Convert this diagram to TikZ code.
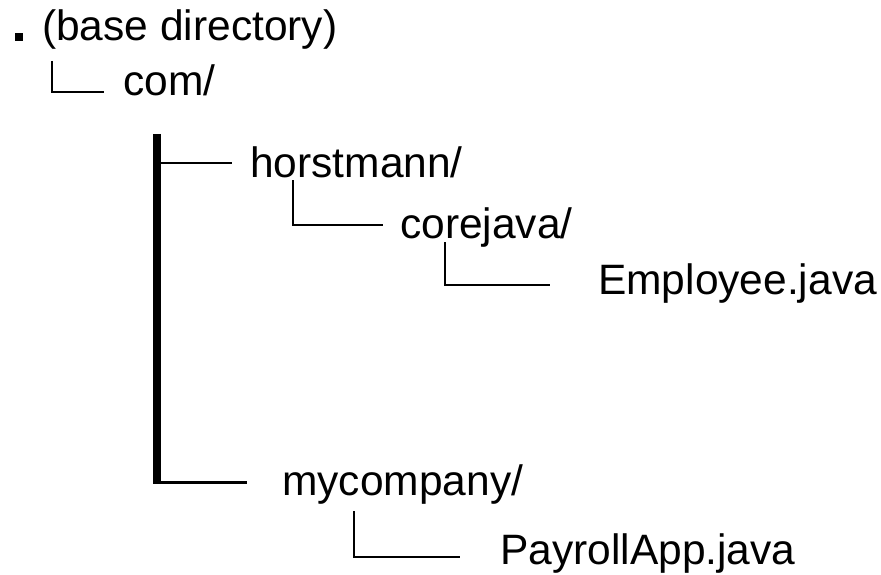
\documentclass[tikz,border=0pt]{standalone}
\usepackage{fontspec}
\setmainfont{Liberation Sans}
\usetikzlibrary{positioning, calc}
\tikzset{
    dir/.style={anchor=base west, inner sep=0pt, font=\fontsize{42.5}{51}\selectfont},
    branch/.style={draw, line width=2.5pt},
    trunk/.style={draw, line width=7.5pt},
    bullet/.style={fill, minimum size=7.5pt, inner sep=0pt},
}

\begin{document}
\begin{tikzpicture}[x=1pt, y=1pt]
    \useasboundingbox (0,0) rectangle (881,-575);

    \node[bullet] (dot) at (19,-37) {};
    \node[dir] (base) at (42,-41) {(base directory)};
    \node[dir] (com) at (123,-96) {com/};
    \node[dir] (horstmann) at (250,-178) {horstmann/};
    \node[dir] (corejava) at (400,-238) {corejava/};
    \node[dir] (employee) at (598,-294) {Employee.java};
    \node[dir] (mycompany) at (282,-495) {mycompany/};
    \node[dir] (payroll) at (500,-564) {PayrollApp.java};

    % where each branch comes in
    \coordinate (com-in) at ([shift={(-19,4)}]com.base west);
    \coordinate (horstmann-in) at ([shift={(-18,15)}]horstmann.base west);
    \coordinate (corejava-in) at ([shift={(-17,13)}]corejava.base west);
    \coordinate (employee-in) at ([shift={(-48,9)}]employee.base west);
    \coordinate (mycompany-in) at ([shift={(-35,13)}]mycompany.base west);
    \coordinate (payroll-in) at ([shift={(-40,7)}]payroll.base west);

    \draw[branch] ([shift={(10,-20)}]base.base west) |- (com-in);

    \coordinate (bartop) at ([shift={(34,-38)}]com.base west);
    \draw[trunk] (bartop) -- ($(bartop |- mycompany-in)+(0,-1.5)$);
    \draw[branch] (bartop |- horstmann-in) -- (horstmann-in);
    \draw[branch, line width=3pt] (bartop |- mycompany-in) -- (mycompany-in);

    \draw[branch] ([shift={(43,-2)}]horstmann.base west) |- (corejava-in);
    \draw[branch] ([shift={(45,-4)}]corejava.base west) |- (employee-in);
    \draw[branch] ([shift={(72,-16)}]mycompany.base west) |- (payroll-in);
\end{tikzpicture}
\end{document}
